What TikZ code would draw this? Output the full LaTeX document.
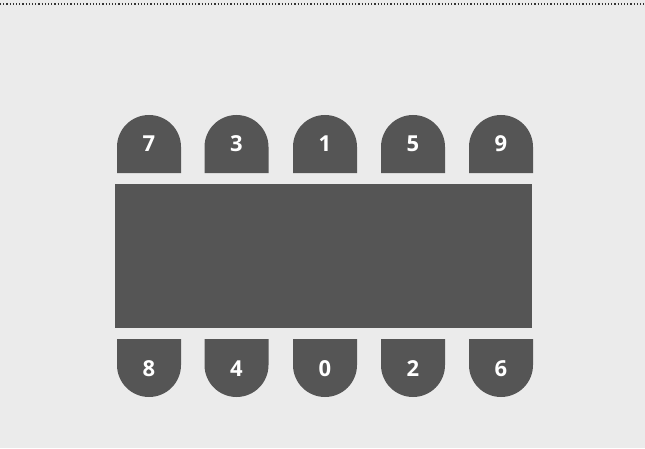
\documentclass[tikz,border=0pt]{standalone}
\usepackage{fontspec}
\setmainfont{Open Sans}
\definecolor{bg}{HTML}{EBEBEB}
\definecolor{furn}{HTML}{555555}
\begin{document}
\begin{tikzpicture}[x=1pt,y=1pt,
  seatlabel/.style={text=white,font=\fontsize{22}{26}\selectfont\bfseries,inner sep=0pt},
  furnfill/.style={fill=furn,draw=none}]
\fill[bg] (0,0) rectangle (645,448);
\useasboundingbox (0,0) rectangle (645,448);
\draw[black!80,line width=1.2pt,dash pattern=on 1.2pt off 2pt] (0,444) -- (645,444);
% table
\node[furnfill,minimum width=417pt,minimum height=144pt,inner sep=0pt] (table) at (323.5,192) {};
% chairs
\foreach \x/\t/\b [count=\i] in {149/7/8,236.5/3/4,325/1/0,413/5/2,501/9/6}{
  \fill[furn] (\x-32,275) -- (\x-32,301) arc[start angle=180,end angle=0,radius=32] -- (\x+32,275) -- cycle;
  \fill[furn] (\x-32,109) -- (\x-32,83) arc[start angle=180,end angle=360,radius=32] -- (\x+32,109) -- cycle;
  \node[seatlabel] (top\i) at (\x,304) {\t};
  \node[seatlabel] (bot\i) at (\x,79) {\b};
}
\end{tikzpicture}
\end{document}
